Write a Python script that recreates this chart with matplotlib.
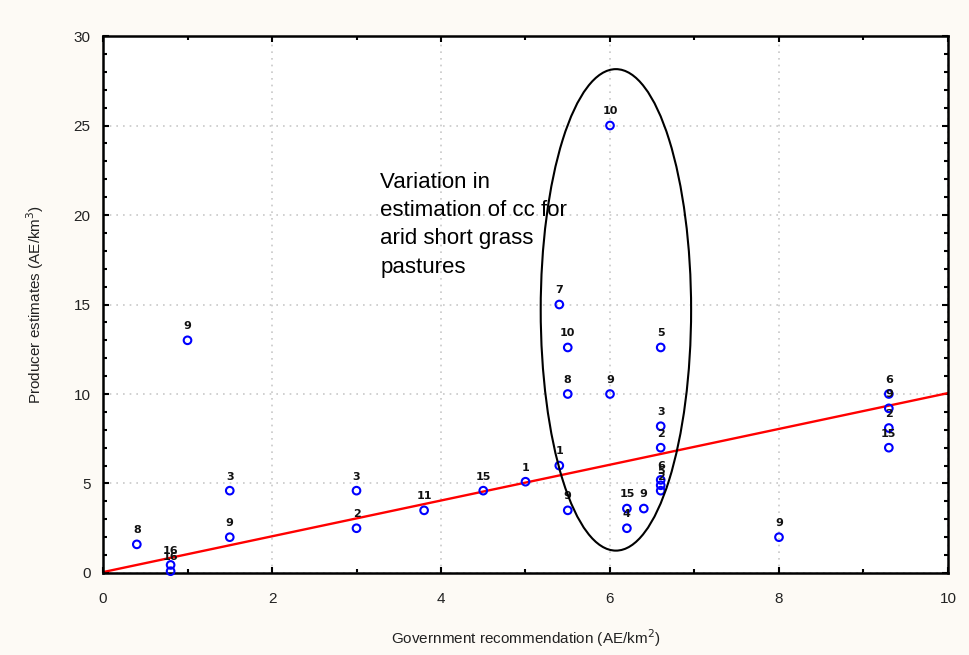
import matplotlib
matplotlib.use("Agg")
import matplotlib.pyplot as plt
from matplotlib.patches import Ellipse
from matplotlib.ticker import MultipleLocator

# Government recommended stocking rate vs. producer estimates (AE/km2)
gov = [0.4, 0.8, 0.8, 1.0, 1.5, 1.5, 3.0, 3.0, 3.8, 4.5, 5.0, 5.4, 5.4,
       5.5, 5.5, 5.5, 6.0, 6.0, 6.2, 6.2, 6.4, 6.6, 6.6, 6.6, 6.6, 6.6,
       6.6, 8.0, 9.3, 9.3, 9.3, 9.3]
producer = [1.6, 0.45, 0.1, 13.0, 4.6, 2.0, 4.6, 2.5, 3.5, 4.6, 5.1, 15.0,
            6.0, 12.6, 10.0, 3.5, 25.0, 10.0, 3.6, 2.5, 3.6, 12.6, 8.2, 7.0,
            5.2, 4.9, 4.6, 2.0, 10.0, 9.2, 8.1, 7.0]
site_ids = ["8", "16", "16", "9", "3", "9", "3", "2", "11", "15", "1", "7",
            "1", "10", "8", "9", "10", "9", "15", "4", "9", "5", "3", "2",
            "6", "5", "2", "9", "6", "9", "2", "15"]

# fitted line (producer = slope * gov + intercept)
fit_x = [0.0, 10.0]
slope, intercept = 1.0, 0.05

plt.rcParams["font.family"] = ["Liberation Sans", "DejaVu Sans"]

fig = plt.figure(figsize=(9.7, 6.55), dpi=100, facecolor="#fdfaf5")
ax = fig.add_axes([0.1062, 0.1252, 0.8711, 0.8198])
ax.set_facecolor("white")

ax.set_xlim(0, 10)
ax.set_ylim(0, 30)
ax.xaxis.set_major_locator(MultipleLocator(2))
ax.xaxis.set_minor_locator(MultipleLocator(1))
ax.yaxis.set_major_locator(MultipleLocator(5))
ax.yaxis.set_minor_locator(MultipleLocator(1))

ax.grid(True, which="major", color="#c8c8c8", linestyle=(0, (1, 3)), linewidth=1.2)
ax.set_axisbelow(True)

ax.tick_params(which="both", direction="in", top=True, right=True,
               color="black", labelsize=11, labelcolor="#222222")
ax.tick_params(which="major", length=4, width=1.5)
ax.tick_params(which="minor", length=3, width=1.5)
ax.tick_params(axis="x", which="major", pad=14)
ax.tick_params(axis="y", which="major", pad=9)
for s in ax.spines.values():
    s.set_linewidth(1.8)
    s.set_color("black")

ax.plot(fit_x, [slope * v + intercept for v in fit_x], color="#ff0000",
        linewidth=1.7, zorder=2)

ax.scatter(gov, producer, s=30, facecolors="none", edgecolors="#0000ff",
           linewidths=1.5, zorder=3, clip_on=False)

for x, y, t in zip(gov, producer, site_ids):
    ax.annotate(t, (x, y), xytext=(0, 8), textcoords="offset points",
                ha="center", va="baseline", fontsize=8, fontweight="bold",
                family="DejaVu Sans", color="#111111", zorder=4)

ax.add_patch(Ellipse((6.07, 14.7), width=1.78, height=26.9, fill=False,
                     edgecolor="black", linewidth=1.5, zorder=5))

ax.text(3.28, 22.4, "Variation in\nestimation of cc for\narid short grass\npastures",
        fontsize=16, ha="left", va="top", linespacing=1.45, color="black", zorder=6)

ax.set_xlabel("Government recommendation (AE/km$^2$)", fontsize=11,
              color="#222222", labelpad=15)
ax.set_ylabel("Producer estimates (AE/km$^3$)", fontsize=11,
              color="#222222", labelpad=20)

fig.savefig("out.png", dpi=100, facecolor=fig.get_facecolor())
